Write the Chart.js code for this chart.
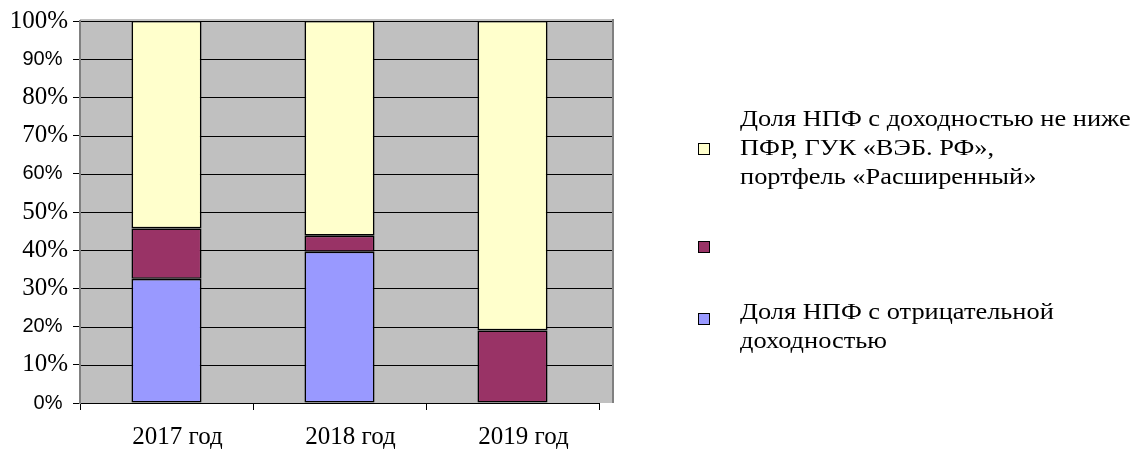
<!DOCTYPE html>
<html><head><meta charset="utf-8">
<script src="https://cdn.jsdelivr.net/npm/chart.js@4"></script>
<style>
html,body{margin:0;padding:0;background:#fff;}
#wrap{position:relative;width:1141px;height:455px;overflow:hidden;}
canvas{position:absolute;left:0;top:0;}
#legend{position:absolute;left:0;top:0;width:1141px;height:455px;font-family:"Liberation Serif","Times New Roman",serif;font-size:24px;line-height:29px;color:#000;}
.sw{position:absolute;left:698px;width:10px;height:10px;border:1px solid #000;}
.txt{position:absolute;left:740px;white-space:nowrap;transform:scaleX(1.1);transform-origin:0 0;}
</style></head>
<body><div id="wrap"><canvas id="c" width="1141" height="455"></canvas><div id="legend"></div></div>
<script>
const categories = ['2017 год', '2018 год', '2019 год'];
const negativeShare = [32.5, 39.6, 0];
const middleShare = [13.2, 4.2, 19];
const upperShare = [54.3, 56.2, 81];
const seriesNames = [
  'Доля НПФ с отрицательной\nдоходностью',
  '',
  'Доля НПФ с доходностью не ниже\nПФР, ГУК «ВЭБ. РФ»,\nпортфель «Расширенный»'
];
const seriesColors = ['#9999FF', '#993366', '#FFFFCC'];
const serifTickValues = [100, 80, 70, 50, 40, 30, 10];

const seriesValues = [negativeShare, middleShare, upperShare];

const backdrop = {
  id: 'backdrop',
  beforeDraw(chart) {
    const {ctx, chartArea: a, scales: {y}} = chart;
    const ext = a.right + 15;
    ctx.save();
    ctx.fillStyle = '#C0C0C0';
    ctx.fillRect(a.left, a.top - 2, ext - a.left, a.bottom - a.top + 2);
    ctx.strokeStyle = '#000';
    ctx.lineWidth = 1;
    y.ticks.forEach(t => {
      if (t.value === 0) return;
      const py = Math.round(y.getPixelForValue(t.value)) + 0.5;
      ctx.beginPath();
      ctx.moveTo(a.left, py);
      ctx.lineTo(ext, py);
      ctx.stroke();
    });
    ctx.strokeStyle = '#808080';
    ctx.lineWidth = 2;
    ctx.beginPath();
    ctx.moveTo(ext - 1, a.top - 2);
    ctx.lineTo(ext - 1, a.bottom);
    ctx.stroke();
    ctx.restore();
  }
};

const isSerifTick = ctx => !!(ctx && ctx.tick && serifTickValues.includes(ctx.tick.value));

const chart = new Chart(document.getElementById('c'), {
  type: 'bar',
  data: {
    labels: categories,
    datasets: seriesValues.map((vals, i) => ({
      label: seriesNames[i],
      data: vals,
      backgroundColor: seriesColors[i],
      borderColor: '#000',
      borderWidth: 1.6,
      borderSkipped: false,
      barPercentage: 0.405,
      categoryPercentage: 1
    }))
  },
  options: {
    responsive: false,
    animation: false,
    events: [],
    layout: {padding: {top: 21, right: 542, left: 0, bottom: 0}},
    plugins: {legend: {display: false}, tooltip: {enabled: false}},
    scales: {
      x: {
        stacked: true,
        grid: {display: true, drawOnChartArea: false, tickLength: 7, color: '#000', offset: true},
        border: {color: '#000', width: 1},
        ticks: {font: {family: 'Liberation Serif', size: 25}, color: '#000', padding: 12, labelOffset: 11, maxRotation: 0},
        afterFit: s => { s.height = 52; }
      },
      y: {
        stacked: true,
        min: 0,
        max: 100,
        ticks: {
          stepSize: 10,
          color: '#000',
          padding: 5,
          callback: v => v + '%' + (serifTickValues.includes(v) ? '' : ' '),
          font: ctx => isSerifTick(ctx)
            ? {family: 'Liberation Serif', size: 25}
            : {family: 'Liberation Sans', size: 20}
        },
        grid: {drawOnChartArea: false, tickLength: 7, color: '#000'},
        border: {color: '#808080', width: 2},
        afterFit: s => { s.width = 80; }
      }
    }
  },
  plugins: [backdrop]
});

// HTML legend (reverse order, as in the reference)
const legendLayout = [
  {sw: 143, txt: 104},
  {sw: 241, txt: null},
  {sw: 313, txt: 297}
];
const legend = document.getElementById('legend');
[2, 1, 0].forEach((si, k) => {
  const pos = legendLayout[k];
  const sw = document.createElement('div');
  sw.className = 'sw';
  sw.style.top = pos.sw + 'px';
  sw.style.background = seriesColors[si];
  legend.appendChild(sw);
  if (seriesNames[si]) {
    const t = document.createElement('div');
    t.className = 'txt';
    t.style.top = pos.txt + 'px';
    t.innerHTML = seriesNames[si].split('\n').map(s => s.replace(/&/g, '&amp;').replace(/</g, '&lt;')).join('<br>');
    legend.appendChild(t);
  }
});
</script>
</body></html>
